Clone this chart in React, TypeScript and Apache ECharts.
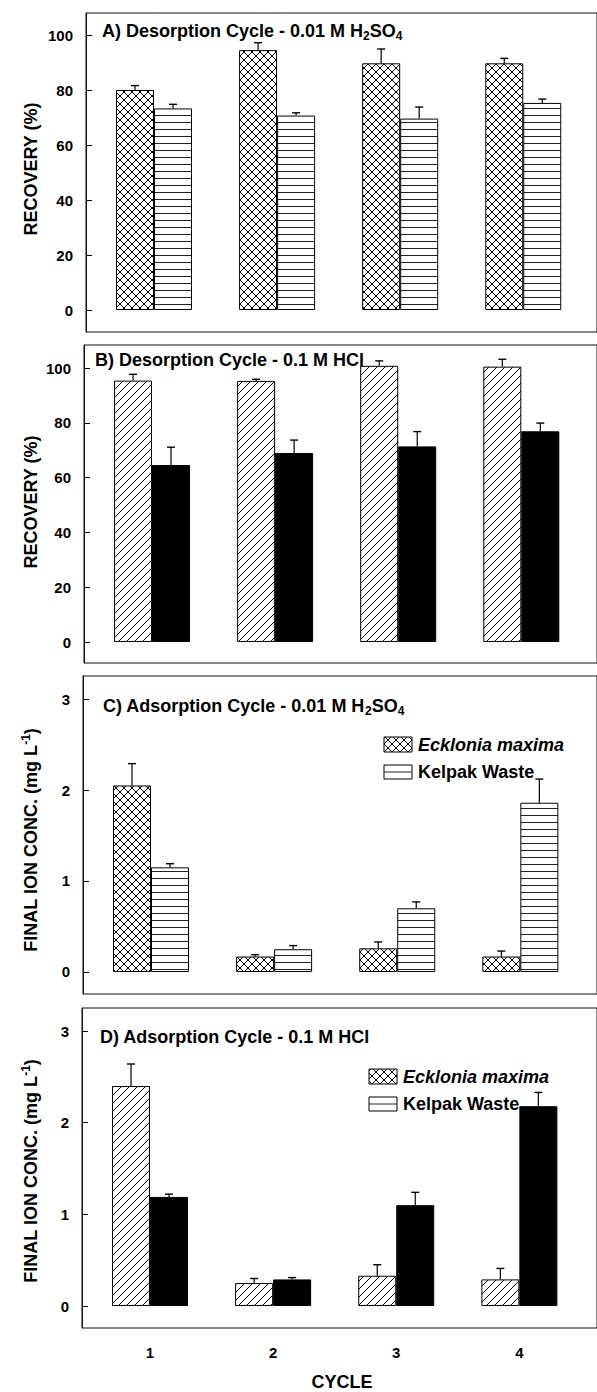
import React, { useEffect, useRef } from 'react';
import * as echarts from 'echarts';

const cycles = [1, 2, 3, 4];
const recoveryTicks = [0, 20, 40, 60, 80, 100];
const concTicks = [0, 1, 2, 3];

// A) Desorption 0.01 M H2SO4 (recovery %)
const desH2SO4Ecklonia = [80.0, 94.5, 89.7, 89.7];
const desH2SO4EckloniaErr = [1.6, 2.7, 5.2, 1.8];
const desH2SO4Kelpak = [73.3, 70.7, 69.6, 75.3];
const desH2SO4KelpakErr = [1.5, 1.0, 4.2, 1.4];
// B) Desorption 0.1 M HCl (recovery %)
const desHClEcklonia = [95.4, 95.3, 100.8, 100.5];
const desHClEckloniaErr = [2.3, 0.6, 1.8, 2.7];
const desHClKelpak = [64.6, 69.0, 71.4, 76.9];
const desHClKelpakErr = [6.5, 4.7, 5.4, 3.0];
// C) Adsorption 0.01 M H2SO4 (mg/L)
const adsH2SO4Ecklonia = [2.05, 0.17, 0.26, 0.17];
const adsH2SO4EckloniaErr = [0.24, 0.02, 0.07, 0.06];
const adsH2SO4Kelpak = [1.15, 0.25, 0.7, 1.86];
const adsH2SO4KelpakErr = [0.04, 0.04, 0.07, 0.26];
// D) Adsorption 0.1 M HCl (mg/L)
const adsHClEcklonia = [2.4, 0.25, 0.33, 0.29];
const adsHClEckloniaErr = [0.24, 0.05, 0.12, 0.12];
const adsHClKelpak = [1.19, 0.29, 1.1, 2.18];
const adsHClKelpakErr = [0.03, 0.02, 0.14, 0.15];

const FONT = "'Liberation Sans', Arial, Helvetica, sans-serif";

function makePattern(kind: string) {
  const c = document.createElement('canvas');
  let w = 8;
  let h = 8;
  if (kind === 'hline') {
    w = 4;
    h = 7;
  }
  c.width = w;
  c.height = h;
  const ctx = c.getContext('2d') as CanvasRenderingContext2D;
  ctx.fillStyle = '#fff';
  ctx.fillRect(0, 0, w, h);
  ctx.strokeStyle = '#000';
  ctx.lineWidth = 1;
  ctx.beginPath();
  if (kind === 'cross') {
    ctx.moveTo(0, 0);
    ctx.lineTo(w, h);
    ctx.moveTo(w, 0);
    ctx.lineTo(0, h);
  } else if (kind === 'diag') {
    ctx.moveTo(0, h);
    ctx.lineTo(w, 0);
    ctx.moveTo(-1, 1);
    ctx.lineTo(1, -1);
    ctx.moveTo(w - 1, h + 1);
    ctx.lineTo(w + 1, h - 1);
  } else {
    ctx.strokeStyle = '#222';
    ctx.moveTo(0, 3.5);
    ctx.lineTo(w, 3.5);
  }
  ctx.stroke();
  return { image: c, repeat: 'repeat', imageWidth: w, imageHeight: h };
}

export default function App() {
  const ref = useRef<HTMLDivElement>(null);
  useEffect(() => {
    if (!ref.current) return;
    const chart = echarts.init(ref.current, null, { renderer: 'svg' });
    const cross = makePattern('cross');
    const diag = makePattern('diag');
    const hline = makePattern('hline');

    const spacing = 126.7;
    const panels = [
      { left: 86, top: 13, height: 319, yMin: -8, yMax: 108, ticks: recoveryTicks,
        eck: desH2SO4Ecklonia, eckErr: desH2SO4EckloniaErr, kel: desH2SO4Kelpak, kelErr: desH2SO4KelpakErr,
        eckFill: cross, kelFill: hline },
      { left: 84, top: 345, height: 318, yMin: -7.66, yMax: 108.4, ticks: recoveryTicks,
        eck: desHClEcklonia, eckErr: desHClEckloniaErr, kel: desHClKelpak, kelErr: desHClKelpakErr,
        eckFill: diag, kelFill: '#000' },
      { left: 83, top: 676, height: 318, yMin: -0.242, yMax: 3.253, ticks: concTicks,
        eck: adsH2SO4Ecklonia, eckErr: adsH2SO4EckloniaErr, kel: adsH2SO4Kelpak, kelErr: adsH2SO4KelpakErr,
        eckFill: cross, kelFill: hline },
      { left: 82, top: 1008, height: 320, yMin: -0.24, yMax: 3.251, ticks: concTicks,
        eck: adsHClEcklonia, eckErr: adsHClEckloniaErr, kel: adsHClKelpak, kelErr: adsHClKelpakErr,
        eckFill: diag, kelFill: '#000' },
    ];

    const grid: any[] = [];
    const xAxis: any[] = [];
    const yAxis: any[] = [];
    const series: any[] = [];

    panels.forEach((p, i) => {
      const width = 612 - p.left;
      const xMin = 1 - 70 / spacing;
      const xMax = xMin + width / spacing;
      grid.push({
        left: p.left, top: p.top, width, height: p.height,
        show: true, borderColor: '#111', borderWidth: 1, backgroundColor: 'transparent',
      });
      xAxis.push({
        type: 'value', gridIndex: i, min: xMin, max: xMax,
        axisLine: { show: false }, axisTick: { show: false }, splitLine: { show: false },
        axisLabel: i === 3
          ? { show: true, customValues: cycles, margin: 17, fontSize: 15, fontWeight: 'bold', color: '#000', fontFamily: FONT }
          : { show: false },
      });
      yAxis.push({
        type: 'value', gridIndex: i, min: p.yMin, max: p.yMax,
        axisLine: { show: true, lineStyle: { color: '#111', width: 1 } },
        splitLine: { show: false },
        axisTick: { show: true, inside: true, length: 6, customValues: p.ticks, lineStyle: { color: '#000' } },
        axisLabel: { show: true, customValues: p.ticks, margin: 13, fontSize: 15, fontWeight: 'bold', color: '#000', fontFamily: FONT },
      });
      series.push({
        name: 'Ecklonia maxima', type: 'bar', xAxisIndex: i, yAxisIndex: i,
        data: cycles.map((c, j) => [c, p.eck[j]]),
        barWidth: 38, barGap: '0%',
        itemStyle: { color: p.eckFill, borderColor: '#000', borderWidth: 1 },
      });
      series.push({
        name: 'Kelpak Waste', type: 'bar', xAxisIndex: i, yAxisIndex: i,
        data: cycles.map((c, j) => [c, p.kel[j]]),
        barWidth: 38, barGap: '0%',
        itemStyle: { color: p.kelFill, borderColor: '#000', borderWidth: 1 },
      });
      const errData: number[][] = [];
      cycles.forEach((c, j) => {
        errData.push([c, p.eck[j], p.eckErr[j], -1]);
        errData.push([c, p.kel[j], p.kelErr[j], 1]);
      });
      series.push({
        type: 'custom', xAxisIndex: i, yAxisIndex: i, data: errData, clip: false, z: 5,
        encode: { x: 0, y: 1 },
        renderItem: (params: any, api: any) => {
          const x = api.value(0);
          const y = api.value(1);
          const e = api.value(2);
          const s = api.value(3);
          const base = api.coord([x, y]);
          const top = api.coord([x, y + e]);
          const cx = base[0] + s * 19;
          return {
            type: 'group',
            children: [
              { type: 'line', shape: { x1: cx, y1: base[1], x2: cx, y2: top[1] }, style: { stroke: '#000', lineWidth: 1.2 } },
              { type: 'line', shape: { x1: cx - 4, y1: top[1], x2: cx + 4, y2: top[1] }, style: { stroke: '#000', lineWidth: 1.4 } },
            ],
          };
        },
      });
    });

    const subRich = {
      sub: { fontSize: 12, fontWeight: 'bold', fontFamily: FONT, lineHeight: 12, verticalAlign: 'bottom', fill: '#000' },
      sup: { fontSize: 12, fontWeight: 'bold', fontFamily: FONT, lineHeight: 12, verticalAlign: 'top', fill: '#000' },
    };
    const textStyle = (text: string, extra: any = {}) => ({
      text, fill: '#000', fontSize: 18, fontWeight: 'bold', fontFamily: FONT, lineHeight: 22,
      align: 'left', verticalAlign: 'middle', rich: subRich, ...extra,
    });
    const kelpakSwatch = (x: number, y: number) => [
      { type: 'rect', shape: { x, y, width: 28, height: 14 }, style: { fill: '#fff', stroke: '#000', lineWidth: 1 } },
      { type: 'line', shape: { x1: x, y1: y + 7, x2: x + 28, y2: y + 7 }, style: { stroke: '#222', lineWidth: 1 } },
    ];

    const graphic: any[] = [
      { type: 'text', x: 102, y: 31, style: textStyle('A) Desorption Cycle - 0.01 M H{sub|2}SO{sub|4}') },
      { type: 'text', x: 95, y: 360, style: textStyle('B) Desorption Cycle - 0.1 M HCl') },
      { type: 'text', x: 103, y: 706, style: textStyle('C) Adsorption Cycle - 0.01 M H{sub|2}SO{sub|4}') },
      { type: 'text', x: 100, y: 1037, style: textStyle('D) Adsorption Cycle - 0.1 M HCl') },
      { type: 'text', x: 31, y: 169, rotation: Math.PI / 2, style: textStyle('RECOVERY (%)', { align: 'center' }) },
      { type: 'text', x: 31, y: 502, rotation: Math.PI / 2, style: textStyle('RECOVERY (%)', { align: 'center' }) },
      { type: 'text', x: 31, y: 840, rotation: Math.PI / 2, style: textStyle('FINAL ION CONC. (mg L{sup|-1})', { align: 'center' }) },
      { type: 'text', x: 31, y: 1171, rotation: Math.PI / 2, style: textStyle('FINAL ION CONC. (mg L{sup|-1})', { align: 'center' }) },
      { type: 'text', x: 342, y: 1382, style: textStyle('CYCLE', { align: 'center' }) },
      // legend C
      { type: 'rect', shape: { x: 384, y: 737, width: 28, height: 15 }, style: { fill: cross, stroke: '#000', lineWidth: 1 } },
      { type: 'text', x: 418, y: 745, style: textStyle('Ecklonia maxima', { fontStyle: 'italic' }) },
      ...kelpakSwatch(384, 765),
      { type: 'text', x: 418, y: 772, style: textStyle('Kelpak Waste') },
      // legend D
      { type: 'rect', shape: { x: 369, y: 1069, width: 28, height: 15 }, style: { fill: cross, stroke: '#000', lineWidth: 1 } },
      { type: 'text', x: 403, y: 1077, style: textStyle('Ecklonia maxima', { fontStyle: 'italic' }) },
      ...kelpakSwatch(369, 1097),
      { type: 'text', x: 403, y: 1104, style: textStyle('Kelpak Waste') },
    ];

    chart.setOption({
      animation: false,
      backgroundColor: '#fff',
      grid,
      xAxis,
      yAxis,
      series,
      graphic,
    });
    return () => chart.dispose();
  }, []);
  return <div ref={ref} style={{ position: 'absolute', left: 0, top: 0, width: 597, height: 1392 }} />;
}
